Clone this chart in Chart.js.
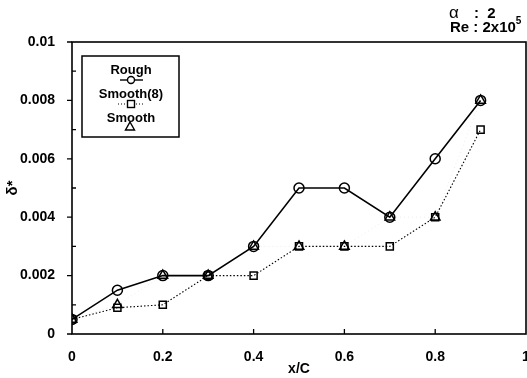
<!DOCTYPE html>
<html>
<head>
<meta charset="utf-8">
<script src="https://cdn.jsdelivr.net/npm/chart.js@4.4.1/dist/chart.umd.min.js"></script>
<style>
    html, body { margin: 0; padding: 0; background: #fff; }
    #wrap { width: 527px; height: 378px; position: relative; }
</style>
</head>
<body>
<div id="wrap"><canvas id="deltaChart"></canvas></div>
<script>
/* displacement thickness along the chord */

const xPositions = [0, 0.1, 0.2, 0.3, 0.4, 0.5, 0.6, 0.7, 0.8, 0.9]
const roughData = [0.0005, 0.0015, 0.002, 0.002, 0.003, 0.005, 0.005, 0.004, 0.006, 0.008]
const smooth8Data = [0.0005, 0.0009, 0.001, 0.002, 0.002, 0.003, 0.003, 0.003, 0.004, 0.007]
const smoothData = [0.0005, 0.001, 0.002, 0.002, 0.003, 0.003, 0.003, 0.004, 0.004, 0.008]

const xTicks = [0, 0.2, 0.4, 0.6, 0.8, 1]
const xTickLabels = ['0', '0.2', '0.4', '0.6', '0.8', '1']
const yTicks = [0, 0.002, 0.004, 0.006, 0.008, 0.01]
const yTickLabels = ['0', '0.002', '0.004', '0.006', '0.008', '0.01']
const yMinorTicks = [0.001, 0.003, 0.005, 0.007, 0.009]

const FONT = '"Liberation Sans", Arial, sans-serif'

function points(ys) {
    return xPositions.map((x, i) => ({ x, y: ys[i] }))
}

// frame, tick marks, legend box and run conditions
const framePlugin = {
    id: 'frame',
    afterDraw(chart) {
        const { ctx, chartArea: a, scales } = chart
        const xs = scales.x, ys = scales.y
        ctx.save()
        ctx.strokeStyle = '#000'
        ctx.lineWidth = 1.6
        ctx.strokeRect(a.left, a.top, a.right - a.left, a.bottom - a.top)

        ctx.lineWidth = 1.3
        ctx.beginPath()
        yTicks.forEach(v => {
            const y = ys.getPixelForValue(v)
            ctx.moveTo(a.left - 5, y)
            ctx.lineTo(a.left, y)
        })
        yMinorTicks.forEach(v => {
            const y = ys.getPixelForValue(v)
            ctx.moveTo(a.left, y)
            ctx.lineTo(a.left + 4, y)
        })
        xTicks.slice(1, -1).forEach(v => {
            const x = xs.getPixelForValue(v)
            ctx.moveTo(x, a.bottom)
            ctx.lineTo(x, a.bottom - 5)
        })
        ctx.stroke()

        // legend
        ctx.lineWidth = 1.5
        ctx.strokeRect(82, 56, 97, 81)
        ctx.fillStyle = '#000'
        ctx.font = 'bold 13px ' + FONT
        ctx.textAlign = 'center'
        ctx.textBaseline = 'middle'
        ctx.fillText('Rough', 131, 70)
        ctx.fillText('Smooth(8)', 131, 94)
        ctx.fillText('Smooth', 131, 118)

        ctx.lineWidth = 1.4
        ctx.beginPath()
        ctx.moveTo(120, 80)
        ctx.lineTo(143, 80)
        ctx.stroke()
        ctx.beginPath()
        ctx.arc(131, 80, 3.5, 0, Math.PI * 2)
        ctx.fillStyle = '#fff'
        ctx.fill()
        ctx.stroke()

        ctx.setLineDash([1, 2])
        ctx.lineWidth = 1
        ctx.beginPath()
        ctx.moveTo(118, 104)
        ctx.lineTo(144, 104)
        ctx.stroke()
        ctx.setLineDash([])
        ctx.lineWidth = 1.4
        ctx.fillRect(127.5, 100.5, 7, 7)
        ctx.strokeRect(127.5, 100.5, 7, 7)

        ctx.beginPath()
        ctx.moveTo(130, 122)
        ctx.lineTo(134.5, 130)
        ctx.lineTo(125.5, 130)
        ctx.closePath()
        ctx.stroke()

        // run conditions
        ctx.fillStyle = '#000'
        ctx.textAlign = 'left'
        ctx.font = '17px ' + FONT
        ctx.fillText('α', 449, 13)
        ctx.font = 'bold 15px ' + FONT
        ctx.fillText(':  2', 474, 14)
        const re = 'Re : 2x10'
        ctx.fillText(re, 450, 28)
        const w = ctx.measureText(re).width
        ctx.font = 'bold 10px ' + FONT
        ctx.fillText('5', 450 + w, 21)
        ctx.restore()
    }
}

const lineStyle = {
    borderColor: '#000',
    pointBorderColor: '#000',
    pointBackgroundColor: 'rgba(255,255,255,0)',
    pointBorderWidth: 1.5,
    tension: 0,
    fill: false
}

new Chart(document.getElementById('deltaChart'), {
    type: 'line',
    data: {
        datasets: [
            {
                ...lineStyle,
                label: 'Rough',
                data: points(roughData),
                borderWidth: 1.6,
                pointStyle: 'circle',
                pointRadius: 5
            },
            {
                ...lineStyle,
                label: 'Smooth(8)',
                data: points(smooth8Data),
                borderWidth: 1.1,
                borderDash: [1.5, 2],
                pointStyle: 'rect',
                pointRadius: 5
            },
            {
                ...lineStyle,
                label: 'Smooth',
                data: points(smoothData),
                borderColor: 'rgba(0,0,0,0.1)',
                borderWidth: 0.8,
                borderDash: [1, 3],
                pointStyle: 'triangle',
                pointRadius: 5.5
            }
        ]
    },
    options: {
        responsive: true,
        maintainAspectRatio: false,
        animation: false,
        layout: { autoPadding: false, padding: { top: 42, right: 1, left: 0, bottom: 0 } },
        plugins: {
            legend: { display: false },
            tooltip: { enabled: false }
        },
        scales: {
            x: {
                type: 'linear',
                min: 0,
                max: 1,
                afterFit: (s) => { s.height = 44; s.paddingRight = 0; s.paddingLeft = 0 },
                afterBuildTicks: (s) => { s.ticks = xTicks.map(v => ({ value: v })) },
                grid: { display: false },
                border: { display: false },
                ticks: {
                    color: '#000',
                    padding: 7,
                    maxRotation: 0,
                    font: { family: FONT, size: 14, weight: 'bold' },
                    callback: (v) => xTickLabels[xTicks.indexOf(v)]
                },
                title: {
                    display: true,
                    text: 'x/C',
                    color: '#000',
                    padding: { top: 0, bottom: 0 },
                    font: { family: FONT, size: 14, weight: 'bold' }
                }
            },
            y: {
                min: 0,
                max: 0.01,
                afterFit: (s) => { s.width = 72 },
                afterBuildTicks: (s) => { s.ticks = yTicks.map(v => ({ value: v })) },
                grid: { display: false },
                border: { display: false },
                ticks: {
                    color: '#000',
                    padding: 9,
                    font: { family: FONT, size: 14, weight: 'bold' },
                    callback: (v) => yTickLabels[yTicks.indexOf(v)]
                },
                title: {
                    display: true,
                    text: 'δ*',
                    color: '#000',
                    padding: { top: 4, bottom: 0 },
                    font: { family: FONT, size: 15, weight: 'bold' }
                }
            }
        }
    },
    plugins: [framePlugin]
})
</script>
</body>
</html>
